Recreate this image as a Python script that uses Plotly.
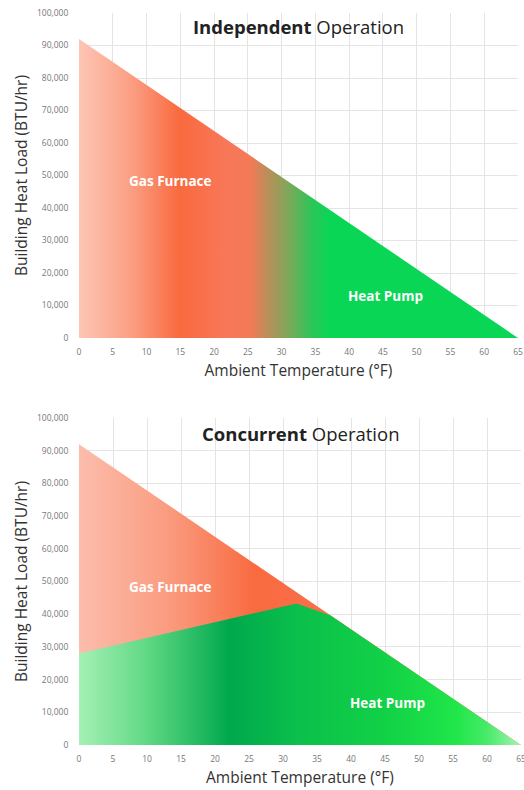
import plotly.graph_objects as go
from plotly.subplots import make_subplots

# building heat load line (°F -> BTU/hr)
load_temp = [0, 65]
load_btu = [92000, 0]

# concurrent operation: heat pump capacity, joins the load line near 37 °F
hp_temp = [0, 32, 37, 65]
hp_btu = [28000, 43300, 39600, 0]

x_ticks = list(range(0, 70, 5))
y_ticks = list(range(0, 110000, 10000))

# gradient stops (position 0..1 across 0..65 °F)
indep_scale = [
    [0.00, "#fdc6b5"], [0.12, "#fb9e82"], [0.23, "#f96a3f"],
    [0.34, "#f8785a"], [0.39, "#f37a57"], [0.43, "#b98f5a"],
    [0.48, "#7aa95a"], [0.53, "#2dc558"], [0.57, "#0ad656"], [1.00, "#0ad656"],
]
furnace_scale = [
    [0.00, "#fcbdac"], [0.20, "#fa9c80"], [0.40, "#f96a40"], [0.57, "#f9704c"], [1.00, "#f9704c"],
]
hp_scale = [
    [0.00, "#a5f0b5"], [0.15, "#62d985"], [0.34, "#00a84d"], [0.50, "#0bc04b"],
    [0.70, "#12d246"], [0.85, "#1fe649"], [0.92, "#45ea66"], [1.00, "#a6f2b4"],
]

font = "Open Sans, Noto Sans, sans-serif"

fig = make_subplots(rows=2, cols=1)

fig.add_trace(go.Scatter(
    x=load_temp, y=load_btu, mode="lines", line=dict(width=0), fill="tozeroy",
    fillgradient=dict(type="horizontal", colorscale=indep_scale, start=0, stop=65),
    showlegend=False, hoverinfo="skip"), row=1, col=1)

fig.add_trace(go.Scatter(
    x=load_temp, y=load_btu, mode="lines", line=dict(width=0), fill="tozeroy",
    fillgradient=dict(type="horizontal", colorscale=furnace_scale, start=0, stop=65),
    showlegend=False, hoverinfo="skip"), row=2, col=1)

fig.add_trace(go.Scatter(
    x=hp_temp, y=hp_btu, mode="lines", line=dict(width=0), fill="tozeroy",
    fillgradient=dict(type="horizontal", colorscale=hp_scale, start=0, stop=65),
    showlegend=False, hoverinfo="skip"), row=2, col=1)

axis_common = dict(
    showgrid=True, gridcolor="#e4e4e4", gridwidth=1, zeroline=False, showline=False,
    automargin=False, ticklabeloverflow="allow",
    tickfont=dict(family=font, size=8.5, color="#777777"),
    title_font=dict(family=font, size=15.5, color="#333333"),
)

fig.update_xaxes(range=[0, 65], tickvals=x_ticks, ticks="outside", ticklen=6,
                 tickcolor="rgba(0,0,0,0)", title_text="Ambient Temperature (°F)",
                 title_standoff=8, **axis_common)
fig.update_yaxes(range=[0, 100000], tickvals=y_ticks, tickformat=",", ticks="outside",
                 ticklen=8, tickcolor="rgba(0,0,0,0)",
                 title_text="Building Heat Load (BTU/hr)", title_standoff=5, **axis_common)

fig.update_layout(
    xaxis=dict(domain=[0, 439 / 442], anchor="y"),
    xaxis2=dict(domain=[0, 1], anchor="y2"),
    yaxis=dict(domain=[407 / 732, 1]),
    yaxis2=dict(domain=[0, 327 / 732]),
)

labels = [
    ("x", "y", 32.5, 95700, "<b>Independent</b> Operation", 18.5, "#222222"),
    ("x", "y", 13.5, 48300, "<b>Gas Furnace</b>", 13.5, "#ffffff"),
    ("x", "y", 45.4, 12900, "<b>Heat Pump</b>", 13.5, "#ffffff"),
    ("x2", "y2", 32.5, 95400, "<b>Concurrent</b> Operation", 18.5, "#222222"),
    ("x2", "y2", 13.4, 48300, "<b>Gas Furnace</b>", 13.5, "#ffffff"),
    ("x2", "y2", 45.4, 12800, "<b>Heat Pump</b>", 13.5, "#ffffff"),
]
for xr, yr, xv, yv, txt, sz, col in labels:
    fig.add_annotation(xref=xr, yref=yr, x=xv, y=yv, text=txt, showarrow=False,
                       font=dict(family=font, size=sz, color=col))

fig.update_layout(
    width=524, height=790,
    margin=dict(l=79, r=3, t=13, b=45, autoexpand=False),
    paper_bgcolor="white", plot_bgcolor="white",
    font=dict(family=font),
)

# drop the default body margin so the figure fills the window exactly
fig.write_html("out.html", config={"displayModeBar": False},
               post_script="document.body.style.margin='0';document.body.style.overflow='hidden';")
